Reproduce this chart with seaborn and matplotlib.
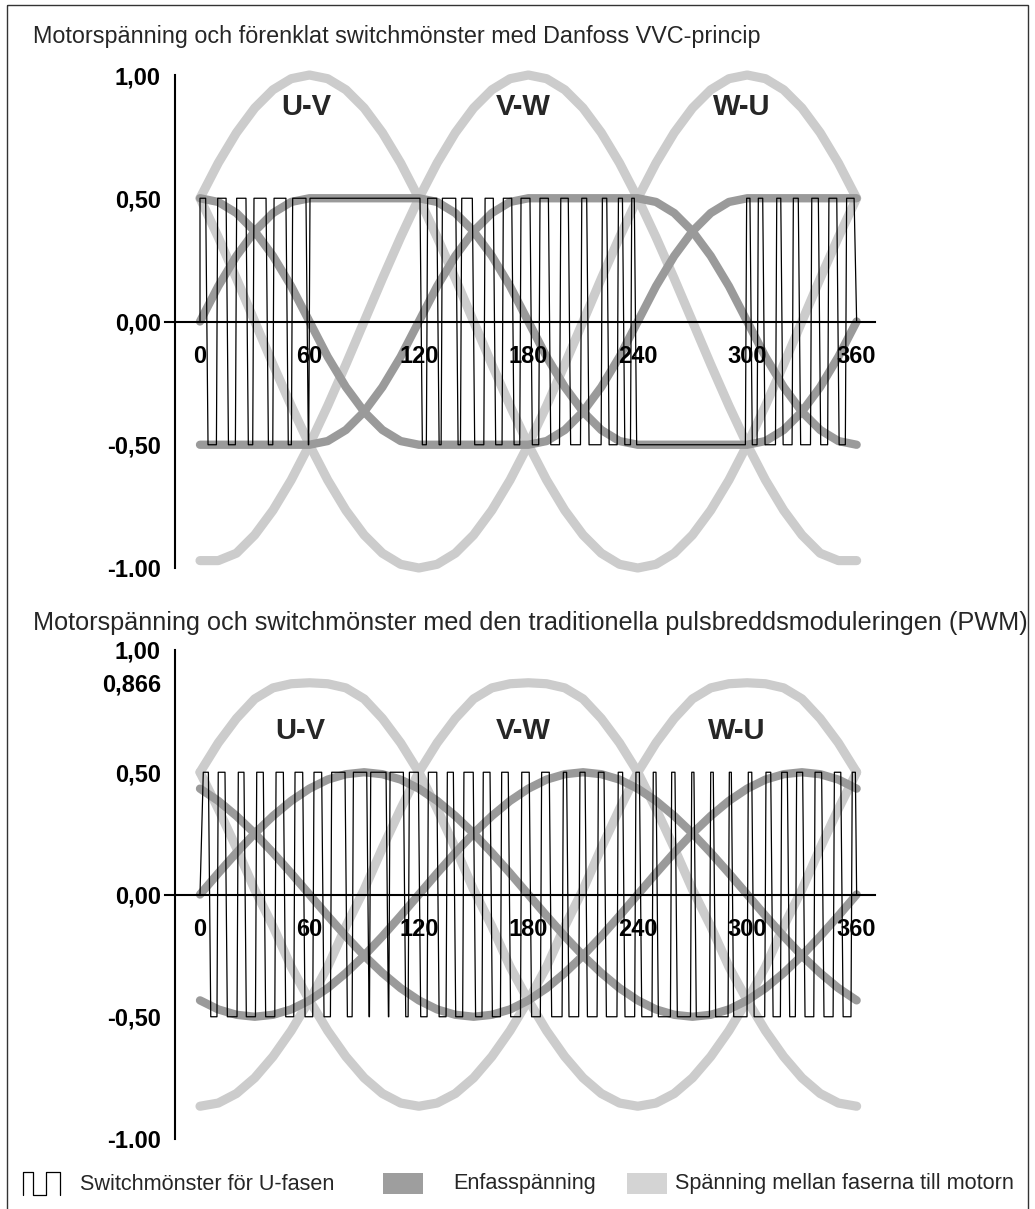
import matplotlib
matplotlib.use("Agg")
import matplotlib.pyplot as plt
from matplotlib.patches import Rectangle
import seaborn as sns
import pandas as pd

sns.set_theme(style="white")
plt.rcParams["font.family"] = ["Liberation Sans", "DejaVu Sans"]

# ---------------- data ----------------
angles = list(range(0, 361, 10))

# Top panel (VVC): line-to-line voltages
top_uv = [0.5, 0.643, 0.766, 0.866, 0.94, 0.985, 1.0, 0.985, 0.94, 0.866, 0.766, 0.643, 0.5,
          0.342, 0.174, 0.0, -0.174, -0.342, -0.5, -0.643, -0.766, -0.866, -0.94, -0.985, -1.0,
          -0.985, -0.94, -0.866, -0.766, -0.643, -0.5, -0.342, -0.174, 0.0, 0.174, 0.342, 0.5]
top_vw = [-0.97, -0.97, -0.94, -0.866, -0.766, -0.643, -0.5, -0.342, -0.174, 0.0, 0.174, 0.342, 0.5,
          0.643, 0.766, 0.866, 0.94, 0.985, 1.0, 0.985, 0.94, 0.866, 0.766, 0.643, 0.5,
          0.342, 0.174, 0.0, -0.174, -0.342, -0.5, -0.643, -0.766, -0.866, -0.94, -0.97, -0.97]
top_wu = [0.5, 0.342, 0.174, 0.0, -0.174, -0.342, -0.5, -0.643, -0.766, -0.866, -0.94, -0.985, -1.0,
          -0.985, -0.94, -0.866, -0.766, -0.643, -0.5, -0.342, -0.174, 0.0, 0.174, 0.342, 0.5,
          0.643, 0.766, 0.866, 0.94, 0.985, 1.0, 0.985, 0.94, 0.866, 0.766, 0.643, 0.5]
# Top panel: phase voltages (flat-topped)
top_u = [0.0, 0.143, 0.266, 0.366, 0.44, 0.485, 0.5, 0.5, 0.5, 0.5, 0.5, 0.5, 0.5,
         0.485, 0.44, 0.366, 0.266, 0.143, 0.0, -0.143, -0.266, -0.366, -0.44, -0.485, -0.5,
         -0.5, -0.5, -0.5, -0.5, -0.5, -0.5, -0.485, -0.44, -0.366, -0.266, -0.143, 0.0]
top_v = [-0.5, -0.5, -0.5, -0.5, -0.5, -0.5, -0.5, -0.485, -0.44, -0.366, -0.266, -0.143, 0.0,
         0.143, 0.266, 0.366, 0.44, 0.485, 0.5, 0.5, 0.5, 0.5, 0.5, 0.5, 0.5,
         0.485, 0.44, 0.366, 0.266, 0.143, 0.0, -0.143, -0.266, -0.366, -0.44, -0.485, -0.5]
top_w = [0.5, 0.485, 0.44, 0.366, 0.266, 0.143, 0.0, -0.143, -0.266, -0.366, -0.44, -0.485, -0.5,
         -0.5, -0.5, -0.5, -0.5, -0.5, -0.5, -0.485, -0.44, -0.366, -0.266, -0.143, 0.0,
         0.143, 0.266, 0.366, 0.44, 0.485, 0.5, 0.5, 0.5, 0.5, 0.5, 0.5, 0.5]
# Top panel switching pattern: intervals (deg) where U is high
top_switch_high = [(0.0, 3.1), (9.7, 14.3), (20.1, 25.2), (29.6, 36.2), (40.6, 47.1), (50.8, 58.1),
                   (60.3, 120.6), (124.8, 129.8), (132.9, 140.2), (143.5, 149.3), (156.3, 160.8),
                   (166.3, 170.9), (176.0, 180.9), (186.4, 191.0), (197.8, 201.9), (209.3, 212.0),
                   (220.6, 223.0), (229.4, 231.6), (236.7, 238.1), (299.7, 301.5), (306.1, 308.5),
                   (316.2, 318.4), (325.3, 328.0), (335.4, 339.0), (344.8, 349.1), (354.5, 358.6)]

# Bottom panel (PWM): line-to-line voltages
bot_uv = [0.5, 0.62, 0.72, 0.8, 0.845, 0.862, 0.866, 0.862, 0.845, 0.8, 0.72, 0.62, 0.5,
          0.35, 0.19, 0.02, -0.13, -0.296, -0.433, -0.557, -0.663, -0.75, -0.814, -0.853, -0.866,
          -0.853, -0.814, -0.75, -0.663, -0.557, -0.433, -0.296, -0.13, 0.02, 0.19, 0.35, 0.5]
bot_vw = [-0.866, -0.853, -0.814, -0.75, -0.663, -0.557, -0.433, -0.296, -0.13, 0.02, 0.19, 0.35, 0.5,
          0.62, 0.72, 0.8, 0.845, 0.862, 0.866, 0.862, 0.845, 0.8, 0.72, 0.62, 0.5,
          0.35, 0.19, 0.02, -0.13, -0.296, -0.433, -0.557, -0.663, -0.75, -0.814, -0.853, -0.866]
bot_wu = [0.5, 0.35, 0.19, 0.02, -0.13, -0.296, -0.433, -0.557, -0.663, -0.75, -0.814, -0.853, -0.866,
          -0.853, -0.814, -0.75, -0.663, -0.557, -0.433, -0.296, -0.13, 0.02, 0.19, 0.35, 0.5,
          0.62, 0.72, 0.8, 0.845, 0.862, 0.866, 0.862, 0.845, 0.8, 0.72, 0.62, 0.5]
# Bottom panel: sinusoidal phase voltages
bot_u = [0.0, 0.087, 0.171, 0.25, 0.321, 0.383, 0.433, 0.47, 0.492, 0.5, 0.492, 0.47, 0.433,
         0.383, 0.321, 0.25, 0.171, 0.087, 0.0, -0.087, -0.171, -0.25, -0.321, -0.383, -0.433,
         -0.47, -0.492, -0.5, -0.492, -0.47, -0.433, -0.383, -0.321, -0.25, -0.171, -0.087, 0.0]
bot_v = [-0.433, -0.47, -0.492, -0.5, -0.492, -0.47, -0.433, -0.383, -0.321, -0.25, -0.171, -0.087, 0.0,
         0.087, 0.171, 0.25, 0.321, 0.383, 0.433, 0.47, 0.492, 0.5, 0.492, 0.47, 0.433,
         0.383, 0.321, 0.25, 0.171, 0.087, 0.0, -0.087, -0.171, -0.25, -0.321, -0.383, -0.433]
bot_w = [0.433, 0.383, 0.321, 0.25, 0.171, 0.087, 0.0, -0.087, -0.171, -0.25, -0.321, -0.383, -0.433,
         -0.47, -0.492, -0.5, -0.492, -0.47, -0.433, -0.383, -0.321, -0.25, -0.171, -0.087, 0.0,
         0.087, 0.171, 0.25, 0.321, 0.383, 0.433, 0.47, 0.492, 0.5, 0.492, 0.47, 0.433]
bot_switch_high = [(1.8, 4.6), (10.0, 13.7), (21.0, 24.1), (31.1, 34.7), (41.7, 45.7), (52.1, 56.3),
                   (62.5, 66.7), (72.2, 79.5), (84.1, 91.4), (93.6, 102.0), (104.2, 111.5),
                   (114.8, 119.7), (125.2, 129.8), (135.6, 138.9), (144.7, 149.8), (155.3, 159.0),
                   (165.4, 169.0), (176.4, 180.5), (187.3, 191.5), (199.2, 201.0), (208.3, 211.1),
                   (218.4, 221.5), (229.3, 231.7), (239.0, 240.9), (248.5, 250.0), (258.6, 260.4),
                   (269.6, 270.8), (280.0, 281.4), (290.2, 291.3), (300.6, 302.5), (310.3, 312.9),
                   (318.9, 322.0), (327.1, 330.4), (337.2, 340.8), (347.8, 351.3), (357.6, 359.3)]

x_ticks = [0, 60, 120, 180, 240, 300, 360]
top_yticks = [-1.0, -0.5, 0.0, 0.5, 1.0]
top_ylabels = ["-1.00", "-0,50", "0,00", "0,50", "1,00"]
bot_yticks = [-1.0, -0.5, 0.0, 0.5, 0.866, 1.0]
bot_ylabels = ["-1.00", "-0,50", "0,00", "0,50", "0,866", "1,00"]
phase_labels = ["U-V", "V-W", "W-U"]
top_label_x = [58, 177, 297]
bot_label_x = [55, 177, 294]
titles = ["Motorspänning och förenklat switchmönster med Danfoss VVC-princip",
          "Motorspänning och switchmönster med den traditionella pulsbreddsmoduleringen (PWM)"]
legend_texts = ["Switchmönster för U-fasen", "Enfasspänning", "Spänning mellan faserna till motorn"]

LIGHT = "#cccccc"
DARK = "#9a9a9a"

# ---------------- figure ----------------
W, H = 1035, 1209
fig = plt.figure(figsize=(W / 100, H / 100), dpi=100)
fig.patch.set_facecolor("white")

overlay = fig.add_axes([0, 0, 1, 1])
overlay.set_xlim(0, W)
overlay.set_ylim(H, 0)
overlay.axis("off")
overlay.patch.set_alpha(0)


def px_axes(left, top, right, bottom):
    a = fig.add_axes([left / W, 1 - bottom / H, (right - left) / W, (bottom - top) / H])
    a.patch.set_alpha(0)
    return a


def switch_path(highs, fall=1.3, rise=0.7, lo=-0.5, hi=0.5, end=360.0):
    xs, ys = [0.0], [0.0]
    for k, (a, b) in enumerate(highs):
        if k > 0:
            pb = highs[k - 1][1]
            f = pb + fall
            r = a - rise
            if r < f:
                m = (f + r) / 2
                f = r = m
            xs += [f, r]
            ys += [lo, lo]
        xs += [a, b]
        ys += [hi, hi]
    xs.append(end)
    ys.append(0.0)
    return xs, ys


def draw_panel(ax, lines_light, lines_dark, highs, yticks, ylabels, labels, label_x, label_y, ylim):
    for s in lines_light:
        sns.lineplot(x=angles, y=s, ax=ax, color=LIGHT, linewidth=6.6, solid_capstyle="round",
                     solid_joinstyle="round", zorder=1, clip_on=False)
    for s in lines_dark:
        sns.lineplot(x=angles, y=s, ax=ax, color=DARK, linewidth=6.0, solid_capstyle="round",
                     solid_joinstyle="round", zorder=2, clip_on=False)
    xs, ys = switch_path(highs)
    sw = pd.DataFrame({"x": xs, "y": ys})
    sns.lineplot(data=sw, x="x", y="y", ax=ax, color="black", linewidth=0.9, sort=False,
                 estimator=None, zorder=4, clip_on=False)
    for t, lx in zip(labels, label_x):
        ax.text(lx, label_y, t, ha="center", va="center", fontsize=21, fontweight="bold", zorder=6)

    ax.set_xlim((160 - 200) / 1.824, (890 - 200) / 1.824)
    ax.set_ylim(*ylim)
    ax.set_xlabel("")
    ax.set_ylabel("")
    for side in ("top", "right"):
        ax.spines[side].set_visible(False)
    ax.spines["left"].set_position(("data", (175 - 200) / 1.824))
    ax.spines["left"].set_bounds(-1, 1)
    ax.spines["bottom"].set_position(("data", 0))
    ax.spines["bottom"].set_bounds((165 - 200) / 1.824, (875 - 200) / 1.824)
    for side in ("left", "bottom"):
        ax.spines[side].set_linewidth(1.5)
        ax.spines[side].set_color("black")
        ax.spines[side].set_zorder(5)
    ax.set_xticks(x_ticks)
    ax.set_xticklabels([str(v) for v in x_ticks], fontsize=17, fontweight="bold")
    ax.set_yticks(yticks)
    ax.set_yticklabels(ylabels, fontsize=17, fontweight="bold")
    ax.tick_params(axis="x", direction="out", length=5, width=1.2, pad=12, colors="black")
    ax.tick_params(axis="y", direction="out", length=7.2, width=1.2, pad=3, colors="black")
    ax.xaxis.set_zorder(7)
    ax.yaxis.set_zorder(7)
    ax.grid(False)


ax1 = px_axes(160, 60, 890, 600)
draw_panel(ax1, [top_uv, top_vw, top_wu], [top_u, top_v, top_w], top_switch_high,
           top_yticks, top_ylabels, phase_labels, top_label_x, 0.87,
           ((321.5 - 600) / 246.5, (321.5 - 60) / 246.5))

ax2 = px_axes(160, 635, 890, 1160)
draw_panel(ax2, [bot_uv, bot_vw, bot_wu], [bot_u, bot_v, bot_w], bot_switch_high,
           bot_yticks, bot_ylabels, phase_labels, bot_label_x, 0.669,
           ((894.5 - 1160) / 244.5, (894.5 - 635) / 244.5))

# titles
overlay.text(33, 37, titles[0], ha="left", va="center", fontsize=16.8)
overlay.text(33, 623, titles[1], ha="left", va="center", fontsize=18.2)

# border
overlay.add_patch(Rectangle((7, 5), 1021, 1215, fill=False, edgecolor="#333333", linewidth=1.0,
                            clip_on=False))

# legend
overlay.plot([23, 23, 33, 33, 46, 46, 60, 60], [1195, 1172, 1172, 1195, 1195, 1172, 1172, 1195],
             color="black", linewidth=0.9)
overlay.text(80, 1184, legend_texts[0], ha="left", va="center", fontsize=15.6)
overlay.add_patch(Rectangle((383, 1173), 40, 21, facecolor="#9e9e9e", edgecolor="none"))
overlay.text(453, 1184, legend_texts[1], ha="left", va="center", fontsize=15.6)
overlay.add_patch(Rectangle((627, 1173), 40, 21, facecolor="#d4d4d4", edgecolor="none"))
overlay.text(675, 1184, legend_texts[2], ha="left", va="center", fontsize=15.6)

fig.savefig("out.png", dpi=100, facecolor="white")
